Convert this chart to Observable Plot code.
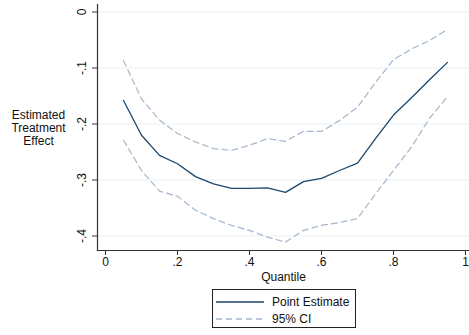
<!DOCTYPE html>
<html>
<head>
<meta charset="utf-8">
<script src="https://cdn.jsdelivr.net/npm/d3@7"></script>
<script src="https://cdn.jsdelivr.net/npm/@observablehq/plot@0.6"></script>
<style>
  body { margin: 0; background: #fff; font-family: "Liberation Sans", Arial, sans-serif; }
  #wrap { position: relative; width: 469px; height: 335px; }
  #legend { position: absolute; left: 212px; top: 289px; width: 144px; height: 39px; border: 1px solid #222; box-sizing: border-box; font-size: 12px; color: #111; }
  .row { position: absolute; left: 3px; display: flex; align-items: center; height: 16px; }
  .row svg { margin-right: 8px; }
</style>
</head>
<body>
<div id="wrap">
  <div id="chart"></div>
  <div id="legend">
    <div class="row" style="top:4px"><svg width="48" height="4"><line x1="0" x2="48" y1="2" y2="2" stroke="#1a476f" stroke-width="1.3"/></svg><span>Point Estimate</span></div>
    <div class="row" style="top:21px"><svg width="48" height="4"><line x1="0" x2="48" y1="2" y2="2" stroke="#a3b6cc" stroke-width="1.3" stroke-dasharray="6,4"/></svg><span>95% CI</span></div>
  </div>
</div>
<script>
const quantiles = [0.05, 0.10, 0.15, 0.20, 0.25, 0.30, 0.35, 0.40, 0.45, 0.50, 0.55, 0.60, 0.65, 0.70, 0.75, 0.80, 0.85, 0.90, 0.95];
const pointEstimate = [-0.158, -0.220, -0.256, -0.271, -0.294, -0.307, -0.315, -0.315, -0.314, -0.322, -0.303, -0.297, -0.283, -0.270, -0.226, -0.184, -0.153, -0.121, -0.090];
const upperCI = [-0.087, -0.155, -0.193, -0.217, -0.232, -0.244, -0.247, -0.238, -0.226, -0.231, -0.213, -0.213, -0.194, -0.170, -0.126, -0.085, -0.066, -0.051, -0.031];
const lowerCI = [-0.229, -0.283, -0.320, -0.329, -0.354, -0.369, -0.381, -0.390, -0.402, -0.411, -0.390, -0.381, -0.376, -0.369, -0.325, -0.283, -0.241, -0.190, -0.151];
const xTicks = [0, 0.2, 0.4, 0.6, 0.8, 1];
const yTicks = [0, -0.1, -0.2, -0.3, -0.4];
const xLabel = "Quantile";
const yLabel = "Estimated\nTreatment\nEffect";

const rows = quantiles.map((q, i) => ({q, pe: pointEstimate[i], lo: lowerCI[i], hi: upperCI[i]}));
const fmt = d => d === 0 ? "0" : String(+d.toFixed(2)).replace("0.", ".");

const chart = Plot.plot({
  width: 469,
  height: 285,
  marginLeft: 97,
  marginRight: 0,
  marginTop: 4,
  marginBottom: 35,
  style: {fontFamily: "Liberation Sans, Arial, sans-serif", fontSize: "12px", color: "#111", background: "#fff"},
  x: {domain: [-0.0222, 1.0111]},
  y: {domain: [-0.4259, 0.0134]},
  marks: [
    Plot.gridY(yTicks, {stroke: "#e8f0f2", strokeOpacity: 1, strokeWidth: 1}),
    Plot.line(rows, {x: "q", y: "hi", stroke: "#a3b6cc", strokeWidth: 1.2, strokeDasharray: "6,4"}),
    Plot.line(rows, {x: "q", y: "lo", stroke: "#a3b6cc", strokeWidth: 1.2, strokeDasharray: "6,4"}),
    Plot.line(rows, {x: "q", y: "pe", stroke: "#1a476f", strokeWidth: 1.3}),
    Plot.frame({anchor: "left", stroke: "#333", strokeWidth: 1.2}),
    Plot.frame({anchor: "bottom", stroke: "#333", strokeWidth: 1.2}),
    Plot.axisX(xTicks, {tickFormat: fmt, tickSize: 5, tickPadding: 2, stroke: "#333", fontSize: 12,
      label: xLabel, labelAnchor: "center", labelArrow: "none", labelOffset: 30}),
    Plot.axisY(yTicks, {tickFormat: fmt, tickSize: 5, tickPadding: 7, tickRotate: -90, stroke: "#333", fontSize: 12, label: null}),
    Plot.text([yLabel], {frameAnchor: "left", dx: -59, textAnchor: "middle", lineHeight: 1.1, fontSize: 12, fill: "#111"})
  ]
});
document.getElementById("chart").appendChild(chart);
</script>
</body>
</html>
